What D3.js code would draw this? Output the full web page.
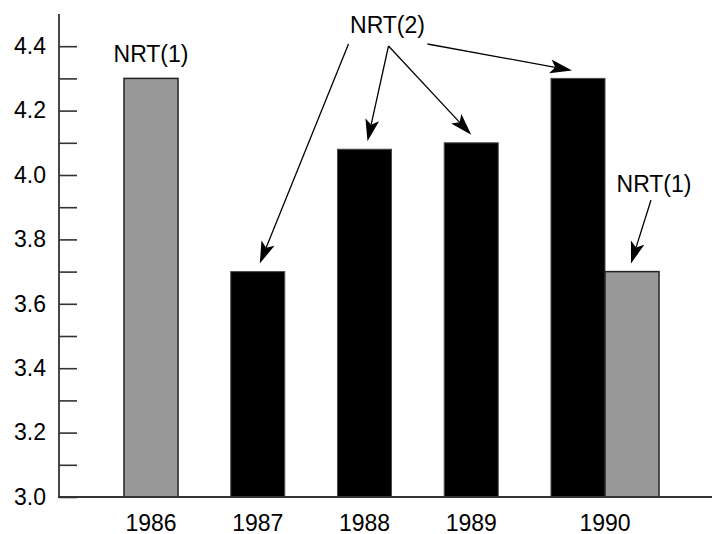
<!DOCTYPE html>
<html>
<head>
<meta charset="utf-8">
<script src="https://cdn.jsdelivr.net/npm/d3@7"></script>
<style>
  body { margin: 0; background: #fff; }
  svg { display: block; font-family: "Liberation Sans", Arial, sans-serif; }
</style>
</head>
<body>
<svg id="chart" width="712" height="534"></svg>
<script>
// Data
const years = ["1986", "1987", "1988", "1989", "1990"];
const nrt2Years = ["1987", "1988", "1989", "1990"];
const nrt2Values = [3.7, 4.08, 4.1, 4.3];
const nrt1Years = ["1986", "1990"];
const nrt1Values = [4.3, 3.7];
const yTicks = [3.0, 3.1, 3.2, 3.3, 3.4, 3.5, 3.6, 3.7, 3.8, 3.9, 4.0, 4.1, 4.2, 4.3, 4.4];
const yTickLabels = ["3.0", "", "3.2", "", "3.4", "", "3.6", "", "3.8", "", "4.0", "", "4.2", "", "4.4"];

const seriesColor = { "NRT(2)": "#000000", "NRT(1)": "#999999" };
const seriesStroke = { "NRT(2)": "#4a4a4a", "NRT(1)": "#222222" };

const svg = d3.select("#chart");
const fontSize = 23;

// Scales
const x = d3.scaleBand().domain(years).range([124, 605]).paddingInner(0.494).paddingOuter(0);
const y = d3.scaleLinear().domain([3.0, 4.5]).range([497, 14]);
const bw = x.bandwidth();

// Build bar list: NRT(2) first, NRT(1) next to it when a year has both
const bars = [];
years.forEach((yr) => {
  const list = [];
  const i2 = nrt2Years.indexOf(yr);
  if (i2 >= 0) list.push({ series: "NRT(2)", year: yr, value: nrt2Values[i2] });
  const i1 = nrt1Years.indexOf(yr);
  if (i1 >= 0) list.push({ series: "NRT(1)", year: yr, value: nrt1Values[i1] });
  list.forEach((d, i) => {
    d.x0 = x(yr) + i * bw;
    d.cx = d.x0 + bw / 2;
    bars.push(d);
  });
});
const groupCenter = (yr) => {
  const b = bars.filter((d) => d.year === yr);
  return (d3.min(b, (d) => d.x0) + d3.max(b, (d) => d.x0 + bw)) / 2;
};

// Bars
svg.append("g")
  .selectAll("rect")
  .data(bars)
  .enter()
  .append("rect")
  .attr("x", (d) => d.x0)
  .attr("y", (d) => y(d.value))
  .attr("width", bw)
  .attr("height", (d) => y(3.0) - y(d.value))
  .attr("fill", (d) => seriesColor[d.series])
  .attr("stroke", (d) => seriesStroke[d.series])
  .attr("stroke-width", (d) => (d.series === "NRT(1)" ? 1.5 : 1));

// Y axis with inward ticks
const yAxis = d3.axisLeft(y)
  .tickValues(yTicks)
  .tickFormat((d, i) => yTickLabels[i])
  .tickSizeInner(-18)
  .tickSizeOuter(0)
  .tickPadding(13);
const gy = svg.append("g").attr("transform", "translate(59,0)").call(yAxis);
gy.select(".domain").remove();
gy.selectAll(".tick line").attr("stroke", "#333").attr("stroke-width", 1.6);
gy.selectAll(".tick text")
  .attr("fill", "#000")
  .style("font-size", fontSize + "px")
  .style("font-family", "\"Liberation Sans\", Arial, sans-serif");

// Axis lines
svg.append("line")
  .attr("x1", 59).attr("x2", 59)
  .attr("y1", y(3.0)).attr("y2", y(4.5))
  .attr("stroke", "#333").attr("stroke-width", 1.8);
svg.append("line")
  .attr("x1", 58).attr("x2", 712)
  .attr("y1", y(3.0)).attr("y2", y(3.0))
  .attr("stroke", "#333").attr("stroke-width", 1.8);

// Year labels
svg.append("g")
  .selectAll("text")
  .data(years)
  .enter()
  .append("text")
  .attr("x", (d) => groupCenter(d))
  .attr("y", 531)
  .attr("text-anchor", "middle")
  .style("font-size", fontSize + "px")
  .text((d) => d);

// Annotations
const barOf = (series, yr) => bars.find((d) => d.series === series && d.year === yr);
const annotations = [
  { text: "NRT(1)", anchor: () => [barOf("NRT(1)", "1986").cx, y(4.3) - 16], arrows: [] },
  {
    text: "NRT(2)",
    anchor: () => [groupCenter("1988") + 23, 33],
    arrows: [
      { dx: -39, dy: 11, series: "NRT(2)", year: "1987", tdx: 2 },
      { dx: 1, dy: 13, series: "NRT(2)", year: "1988", tdx: 3 },
      { dx: 1, dy: 13, series: "NRT(2)", year: "1989", tdx: 0 },
      { dx: 40, dy: 11, series: "NRT(2)", year: "1990", tdx: -6 },
    ],
  },
  {
    text: "NRT(1)",
    anchor: () => [barOf("NRT(1)", "1990").cx + 22, y(3.947)],
    arrows: [{ dx: -3, dy: 8, series: "NRT(1)", year: "1990", tdx: -1 }],
  },
];

const ann = svg.append("g");
const headLen = 22, headHalf = 7, notch = 5;
annotations.forEach((a) => {
  const [ax, ay] = a.anchor();
  ann.append("text")
    .attr("x", ax).attr("y", ay)
    .attr("text-anchor", "middle")
    .style("font-size", fontSize + "px")
    .text(a.text);
  a.arrows.forEach((r) => {
    const b = barOf(r.series, r.year);
    const sx = ax + r.dx, sy = ay + r.dy;
    const tx = b.cx + r.tdx, ty = y(b.value) - 8;
    const len = Math.hypot(tx - sx, ty - sy);
    const ux = (tx - sx) / len, uy = (ty - sy) / len;
    const px = -uy, py = ux;
    const bx = tx - ux * headLen, by = ty - uy * headLen;
    const nx = tx - ux * (headLen - notch), ny = ty - uy * (headLen - notch);
    ann.append("line")
      .attr("x1", sx).attr("y1", sy)
      .attr("x2", nx).attr("y2", ny)
      .attr("stroke", "#000").attr("stroke-width", 1.3);
    ann.append("path")
      .attr("d", `M${tx},${ty}L${bx + px * headHalf},${by + py * headHalf}L${nx},${ny}L${bx - px * headHalf},${by - py * headHalf}Z`)
      .attr("fill", "#000");
  });
});
</script>
</body>
</html>
